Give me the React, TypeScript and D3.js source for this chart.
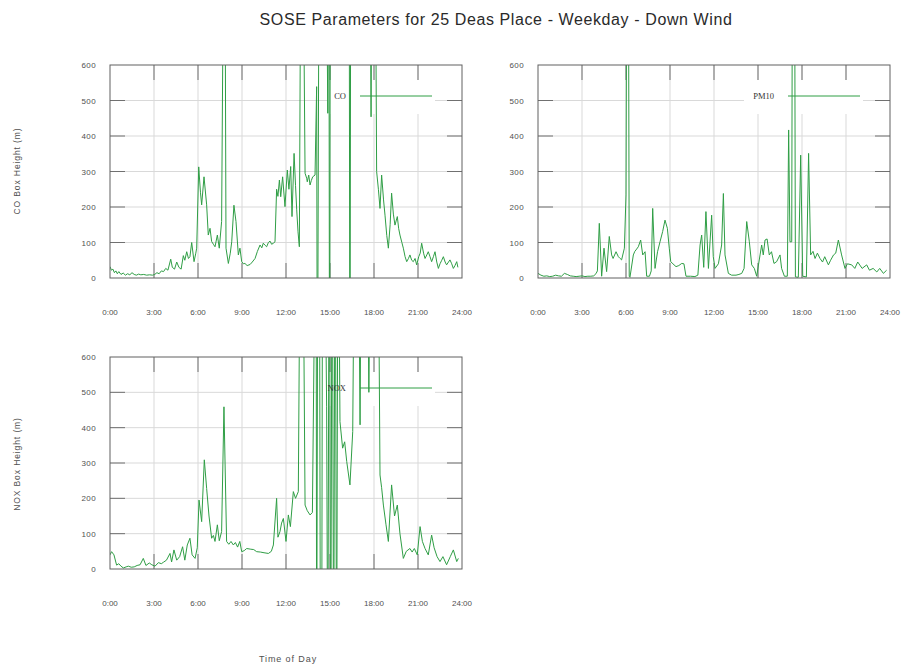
import React from "react";
import * as d3 from "d3";

const title = "SOSE Parameters for 25 Deas Place - Weekday - Down Wind";
const xTickHours = [0, 3, 6, 9, 12, 15, 18, 21, 24];
const xTickLabels = ["0:00", "3:00", "6:00", "9:00", "12:00", "15:00", "18:00", "21:00", "24:00"];
const yTicks = [0, 100, 200, 300, 400, 500, 600];

// [hour, box height (m)]; values beyond the axis range run off the plot
const coPoints: [number, number][] = [
  [0.0, 32], [0.1, 22], [0.2, 25], [0.3, 15], [0.4, 20], [0.5, 12], [0.6, 18], [0.75, 10], [0.9, 14], [1.05, 8],
  [1.2, 12], [1.35, 9], [1.5, 15], [1.65, 10], [1.8, 8], [1.95, 11], [2.1, 9], [2.3, 10], [2.5, 8], [2.7, 9],
  [2.9, 8], [3.05, 10], [3.2, 15], [3.35, 12], [3.5, 20], [3.65, 18], [3.8, 27], [3.95, 22], [4.14, 53], [4.25, 30],
  [4.4, 25], [4.55, 45], [4.7, 30], [4.85, 25], [5.0, 63], [5.1, 50], [5.23, 74], [5.35, 55], [5.45, 60], [5.57, 100],
  [5.73, 46], [5.85, 70], [5.91, 84], [6.05, 313], [6.17, 240], [6.25, 206], [6.41, 285], [6.59, 206], [6.7, 121], [6.82, 140],
  [6.93, 103], [7.05, 95], [7.16, 88], [7.32, 121], [7.45, 84], [7.61, 159], [7.7, 700], [7.78, 1200], [7.86, 700], [7.91, 84],
  [8.07, 41], [8.2, 70], [8.3, 102], [8.45, 205], [8.59, 159], [8.75, 65], [8.86, 84], [8.98, 46], [9.1, 40], [9.2, 41],
  [9.35, 35], [9.55, 38], [9.7, 45], [9.89, 55], [10.05, 75], [10.23, 93], [10.35, 85], [10.45, 98], [10.58, 92], [10.68, 88],
  [10.8, 100], [10.91, 104], [11.02, 95], [11.14, 98], [11.25, 102], [11.36, 250], [11.45, 230], [11.55, 276], [11.64, 229], [11.77, 285],
  [11.93, 201], [12.09, 304], [12.2, 250], [12.32, 314], [12.41, 173], [12.55, 351], [12.65, 260], [12.73, 192], [12.82, 130], [12.91, 88],
  [13.0, 900], [13.1, 1200], [13.18, 900], [13.3, 295], [13.41, 281], [13.45, 271], [13.55, 290], [13.64, 262], [13.73, 275], [13.82, 285],
  [13.98, 290], [14.09, 539], [14.14, -500], [14.27, 1200], [14.5, 1500], [14.7, 1200], [14.85, 464], [14.92, 1200], [14.97, -500], [15.03, 1200],
  [15.5, 1500], [16.3, 1200], [16.36, -500], [16.42, 1200], [17.0, 1500], [17.7, 1200], [17.8, 454], [17.88, 1200], [18.1, 900], [18.18, 300],
  [18.3, 250], [18.41, 196], [18.52, 290], [18.65, 220], [18.75, 177], [18.87, 120], [18.98, 84], [19.1, 150], [19.2, 239], [19.32, 180],
  [19.43, 149], [19.59, 173], [19.68, 140], [19.77, 121], [19.9, 100], [20.0, 84], [20.12, 60], [20.23, 46], [20.35, 55], [20.45, 65],
  [20.57, 50], [20.68, 46], [20.8, 55], [20.91, 37], [21.05, 60], [21.15, 70], [21.25, 98], [21.38, 70], [21.48, 55], [21.6, 65],
  [21.7, 74], [21.82, 60], [21.93, 46], [22.05, 60], [22.16, 74], [22.28, 45], [22.39, 27], [22.5, 40], [22.62, 50], [22.73, 60],
  [22.85, 45], [22.95, 37], [23.08, 45], [23.18, 51], [23.3, 40], [23.41, 27], [23.52, 35], [23.64, 46], [23.72, 30],
];

const pm10Points: [number, number][] = [
  [0.0, 13], [0.2, 8], [0.4, 5], [0.6, 6], [0.8, 4], [1.0, 5], [1.2, 8], [1.4, 6], [1.6, 5], [1.8, 13],
  [2.0, 10], [2.2, 6], [2.4, 5], [2.6, 4], [2.8, 5], [3.0, 6], [3.2, 4], [3.4, 5], [3.6, 5], [3.8, 6],
  [3.95, 12], [4.05, 20], [4.18, 154], [4.34, 5], [4.5, 84], [4.68, 18], [4.86, 117], [5.02, 65], [5.12, 55], [5.32, 74],
  [5.48, 60], [5.6, 55], [5.7, 51], [5.89, 84], [6.0, 234], [6.05, 900], [6.15, 1200], [6.22, 5], [6.27, 2], [6.5, 65],
  [6.6, 75], [6.68, 79], [6.84, 88], [7.0, 107], [7.14, 65], [7.3, 74], [7.41, 5], [7.6, 5], [7.72, 20], [7.82, 196],
  [7.98, 27], [8.15, 74], [8.32, 102], [8.5, 131], [8.66, 163], [8.82, 140], [8.95, 84], [9.05, 46], [9.2, 40], [9.41, 32],
  [9.6, 35], [9.8, 41], [9.95, 40], [10.09, 5], [10.4, 5], [10.7, 4], [10.9, 8], [11.05, 93], [11.16, 121], [11.3, 30],
  [11.45, 187], [11.62, 27], [11.84, 177], [11.95, 60], [12.07, 27], [12.3, 40], [12.52, 93], [12.64, 238], [12.75, 65], [12.98, 13],
  [13.2, 8], [13.5, 8], [13.7, 10], [13.89, 13], [14.05, 27], [14.23, 159], [14.41, 102], [14.57, 37], [14.75, 27], [14.91, 5],
  [15.14, 65], [15.25, 93], [15.36, 65], [15.48, 107], [15.62, 110], [15.77, 65], [15.92, 74], [16.09, 41], [16.27, 46], [16.5, 65],
  [16.61, 27], [16.8, 5], [17.0, 5], [17.09, 417], [17.18, 102], [17.3, 102], [17.36, 1200], [17.48, 1200], [17.55, 3], [17.75, 2],
  [17.91, 346], [18.05, 5], [18.3, 3], [18.45, 351], [18.59, 65], [18.75, 75], [18.89, 55], [19.05, 70], [19.23, 55], [19.4, 45],
  [19.55, 60], [19.8, 37], [19.95, 50], [20.15, 65], [20.3, 70], [20.48, 107], [20.7, 65], [20.93, 27], [21.1, 40], [21.39, 37],
  [21.6, 27], [21.8, 45], [22.1, 27], [22.41, 37], [22.6, 22], [22.85, 27], [23.1, 17], [23.3, 27], [23.55, 13], [23.77, 22],
];

const noxPoints: [number, number][] = [
  [0.0, 40], [0.11, 49], [0.27, 40], [0.45, 11], [0.6, 15], [0.75, 8], [0.91, 3], [1.1, 6], [1.25, 8], [1.45, 5],
  [1.65, 6], [1.85, 10], [2.05, 12], [2.27, 30], [2.45, 10], [2.68, 17], [2.85, 12], [3.07, 8], [3.3, 18], [3.5, 15],
  [3.64, 19], [3.85, 25], [4.09, 44], [4.2, 20], [4.36, 54], [4.55, 25], [4.75, 35], [4.95, 63], [5.1, 25], [5.27, 68],
  [5.45, 87], [5.6, 40], [5.8, 30], [5.95, 60], [6.07, 195], [6.25, 134], [6.43, 309], [6.59, 228], [6.75, 150], [6.93, 87],
  [7.05, 95], [7.16, 78], [7.32, 125], [7.45, 80], [7.61, 106], [7.77, 459], [7.95, 78], [8.1, 70], [8.25, 78], [8.41, 68],
  [8.55, 75], [8.7, 62], [8.85, 78], [8.98, 49], [9.15, 52], [9.32, 58], [9.6, 56], [9.8, 55], [10.0, 49], [10.25, 48],
  [10.5, 46], [10.8, 44], [11.0, 50], [11.14, 68], [11.36, 200], [11.45, 90], [11.59, 106], [11.7, 130], [11.82, 143], [12.0, 78],
  [12.16, 153], [12.3, 120], [12.5, 219], [12.65, 200], [12.84, 219], [13.0, 1200], [13.12, 1200], [13.3, 181], [13.45, 165], [13.64, 153],
  [13.8, 160], [13.98, 900], [14.05, 1200], [14.09, -400], [14.18, 1200], [14.27, 1200], [14.35, -400], [14.43, -400], [14.5, 1200], [14.6, 1200],
  [14.77, 459], [14.85, -400], [14.95, 1200], [15.05, -400], [15.15, 1200], [15.25, -400], [15.35, 1200], [15.45, -400], [15.55, 1200], [15.68, 417],
  [15.86, 342], [16.0, 360], [16.14, 304], [16.36, 238], [16.55, 389], [16.7, 1200], [16.9, 1200], [17.05, 408], [17.16, 1200], [17.5, 1200],
  [17.65, 500], [17.8, 1200], [18.25, 1200], [18.41, 266], [18.52, 230], [18.64, 181], [18.82, 125], [18.98, 78], [19.2, 238], [19.4, 150],
  [19.59, 181], [19.77, 100], [20.0, 30], [20.2, 50], [20.45, 58], [20.6, 48], [20.75, 58], [20.95, 40], [21.14, 120], [21.3, 78],
  [21.48, 58], [21.7, 40], [21.93, 96], [22.1, 60], [22.3, 35], [22.5, 21], [22.7, 35], [22.95, 12], [23.2, 35], [23.41, 54],
  [23.64, 21], [23.75, 30],
];

const LINE = "#2f9e45";
const GRID = "#d9d9d9";
const TICK = "#707070";
const FRAME = "#606060";
const LABEL = "#505050";
const SANS = "Liberation Sans, Arial, sans-serif";

type PanelProps = {
  id: string;
  left: number;
  top: number;
  width: number;
  height: number;
  data: [number, number][];
  legend: string;
  keyLeft: number;
};

function Panel({ id, left, top, width, height, data, legend, keyLeft }: PanelProps) {
  const x = d3.scaleLinear().domain([0, 24]).range([left, left + width]);
  const y = d3.scaleLinear().domain([0, 600]).range([top + height, top]);
  const line = d3.line<[number, number]>().x((d) => x(d[0])).y((d) => y(d[1]));
  const tickLen = 15;
  const right = left + width;
  const bottom = top + height;
  const keyRight = right - 27;
  const keyY = top + 31;
  return (
    <g>
      <defs>
        <clipPath id={id}>
          <rect x={left} y={top} width={width} height={height} />
        </clipPath>
      </defs>
      {xTickHours.slice(1, -1).map((h) => (
        <line key={"gx" + h} x1={x(h)} x2={x(h)} y1={top} y2={bottom} stroke={GRID} strokeWidth={1} />
      ))}
      {yTicks.slice(1, -1).map((v) => (
        <line key={"gy" + v} x1={left} x2={right} y1={y(v)} y2={y(v)} stroke={GRID} strokeWidth={1} />
      ))}
      <rect x={keyLeft} y={top + 15} width={keyRight - keyLeft} height={34} fill="#fff" />
      {xTickHours.slice(1, -1).map((h) => (
        <g key={"tx" + h}>
          <line x1={x(h)} x2={x(h)} y1={top} y2={top + tickLen} stroke={TICK} strokeWidth={1} />
          <line x1={x(h)} x2={x(h)} y1={bottom} y2={bottom - tickLen} stroke={TICK} strokeWidth={1} />
        </g>
      ))}
      {yTicks.slice(1, -1).map((v) => (
        <g key={"ty" + v}>
          <line x1={left} x2={left + tickLen} y1={y(v)} y2={y(v)} stroke={TICK} strokeWidth={1} />
          <line x1={right} x2={right - tickLen} y1={y(v)} y2={y(v)} stroke={TICK} strokeWidth={1} />
        </g>
      ))}
      <g clipPath={`url(#${id})`}>
        <path d={line(data) || ""} fill="none" stroke={LINE} strokeWidth={1} strokeLinejoin="round" />
      </g>
      <text x={right - 116} y={keyY + 3} textAnchor="end" fontFamily="Liberation Serif, serif" fontSize={8.5} fill="#333">
        {legend}
      </text>
      <line x1={right - 102} x2={right - 30} y1={keyY} y2={keyY} stroke={LINE} strokeWidth={1} />
      <rect x={left} y={top} width={width} height={height} fill="none" stroke={FRAME} strokeWidth={1} />
      {yTicks.map((v) => (
        <text key={"ly" + v} x={left - 14} y={y(v) + 3} textAnchor="end" fontFamily={SANS} fontSize={8} letterSpacing={0.4} fill={LABEL}>
          {v}
        </text>
      ))}
      {xTickHours.map((h, i) => (
        <text key={"lx" + h} x={x(h)} y={bottom + 37} textAnchor="middle" fontFamily={SANS} fontSize={8} fill={LABEL}>
          {xTickLabels[i]}
        </text>
      ))}
    </g>
  );
}

export default function App() {
  return (
    <svg width={904} height={666} style={{ position: "absolute", left: 0, top: 0, background: "#fff" }}>
      <rect x={0} y={0} width={904} height={666} fill="#fff" />
      <text x={496} y={25} textAnchor="middle" fontFamily={SANS} fontSize={16} letterSpacing={0.6} fill="#2a2a2a">
        {title}
      </text>
      <Panel id="c1" left={110} top={65} width={352} height={213} data={coPoints} legend="CO" keyLeft={328} />
      <Panel id="c2" left={538} top={65} width={352} height={213} data={pm10Points} legend="PM10" keyLeft={744} />
      <Panel id="c3" left={110} top={357} width={352} height={212} data={noxPoints} legend="NOX" keyLeft={318} />
      <text transform="translate(20,171) rotate(-90)" textAnchor="middle" fontFamily={SANS} fontSize={8.5} letterSpacing={0.9} fill={LABEL}>
        CO Box Height (m)
      </text>
      <text transform="translate(20,464) rotate(-90)" textAnchor="middle" fontFamily={SANS} fontSize={8.5} letterSpacing={0.9} fill={LABEL}>
        NOX Box Height (m)
      </text>
      <text x={288} y={662} textAnchor="middle" fontFamily={SANS} fontSize={9} letterSpacing={0.9} fill={LABEL}>
        Time of Day
      </text>
    </svg>
  );
}
